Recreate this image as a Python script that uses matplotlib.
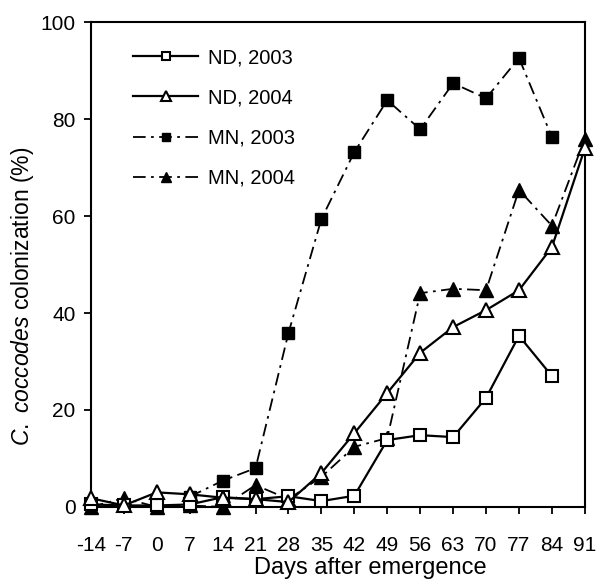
import matplotlib
matplotlib.use("Agg")
import matplotlib.pyplot as plt

plt.rcParams["font.family"] = ["Liberation Sans", "DejaVu Sans"]
plt.rcParams["mathtext.fontset"] = "custom"
plt.rcParams["mathtext.it"] = "Liberation Sans:italic"
plt.rcParams["mathtext.rm"] = "Liberation Sans"

days = [-14, -7, 0, 7, 14, 21, 28, 35, 42, 49, 56, 63, 70, 77, 84, 91]

nd_2003_days = [-14, -7, 0, 7, 14, 21, 28, 35, 42, 49, 56, 63, 70, 77, 84]
nd_2003 = [0.5, 0.3, 0.3, 0.5, 2.0, 1.6, 2.2, 1.2, 2.3, 13.8, 14.8, 14.4, 22.5, 35.3, 27.0]

nd_2004_days = days
nd_2004 = [1.8, 0.3, 3.0, 2.6, 1.9, 1.6, 1.0, 7.0, 15.2, 23.5, 31.8, 37.1, 40.6, 44.7, 53.6, 74.0]

mn_2003_days = [7, 14, 21, 28, 35, 42, 49, 56, 63, 70, 77, 84]
mn_2003 = [2.1, 5.4, 8.0, 35.9, 59.4, 73.2, 83.9, 77.9, 87.4, 84.3, 92.6, 76.3]

mn_2004_days = days
mn_2004 = [0.0, 1.8, 0.0, 0.3, 0.0, 4.5, 1.6, 6.2, 12.4, 14.2, 44.1, 45.0, 44.7, 65.4, 58.0, 76.0]

fig = plt.figure(figsize=(5.98, 5.84), dpi=100)
ax = fig.add_axes([0.152, 0.132, 0.826, 0.830])

dashdot = (0, (7, 3, 1.5, 3))
ax.plot(nd_2003_days, nd_2003, color="black", lw=1.6, marker="s", ms=9,
        mfc="white", mec="black", mew=1.5, label="ND, 2003", zorder=3, clip_on=False)
ax.plot(nd_2004_days, nd_2004, color="black", lw=1.6, marker="^", ms=10,
        mfc="white", mec="black", mew=1.5, label="ND, 2004", zorder=3, clip_on=False)
ax.plot(mn_2003_days, mn_2003, color="black", lw=1.3, ls=dashdot, marker="s", ms=9,
        mfc="black", mec="black", label="MN, 2003", zorder=2, clip_on=False)
ax.plot(mn_2004_days, mn_2004, color="black", lw=1.3, ls=dashdot, marker="^", ms=10,
        mfc="black", mec="black", label="MN, 2004", zorder=2, clip_on=False)

ax.set_xlim(-14, 91)
ax.set_ylim(0, 100)
ax.set_xticks(days)
ax.set_xticklabels([str(d) for d in days])
ax.set_yticks([0, 20, 40, 60, 80, 100])
for side in ["left", "right", "top", "bottom"]:
    ax.spines[side].set_linewidth(1.5)
ax.tick_params(axis="both", direction="out", length=5, width=1.3, labelsize=15)
ax.tick_params(axis="x", pad=16)
ax.tick_params(axis="y", pad=6)

ax.set_ylabel(r"$\it{C.\ coccodes}$ colonization (%)", fontsize=16.5)
ax.yaxis.set_label_coords(-0.112, 0.434)
ax.set_xlabel("Days after emergence", fontsize=17)
ax.xaxis.set_label_coords(0.565, -0.104)

ax.legend(loc="upper left", bbox_to_anchor=(0.085, 0.946), frameon=False,
          fontsize=14.5, handlelength=3.25, handletextpad=0.5,
          labelspacing=1.05, borderpad=0, borderaxespad=0, markerscale=0.7)

fig.savefig("out.png", dpi=100)
